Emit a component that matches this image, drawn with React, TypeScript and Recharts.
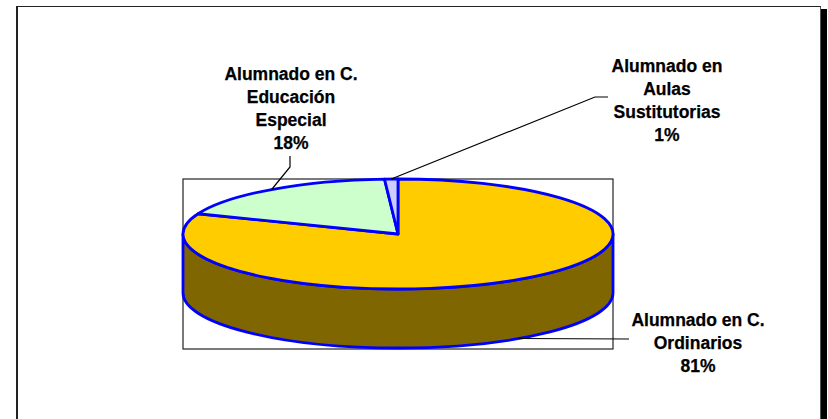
import { PieChart, Pie, Cell } from 'recharts';

// categories (line breaks as in the original labels) and their shares in %
const categories = [
  'Alumnado en C.\nOrdinarios',
  'Alumnado en C.\nEducación\nEspecial',
  'Alumnado en\nAulas\nSustitutorias',
];
const shares = [81, 18, 1];
const topColors = ['#FFCC00', '#CCFFCC', '#CCCCFF'];

const data = categories.map((name, i) => ({ name, value: shares[i] }));

// 3D look of the pie
const CX = 398;
const CY = 234;
const RADIUS = 215;
const TILT = 55 / 215;
const DEPTH = 59;
const EDGE = '#0000FF';
const RAD = Math.PI / 180;
const FONT = "'Liberation Sans', Arial, sans-serif";

// where each label sits: text centre, first baseline, leader bend points
const labelLayout = [
  { x: 698, y: 326, leader: [[629, 339]] },
  { x: 291, y: 80, leader: [[290, 167], [290, 156]] },
  { x: 667, y: 72, leader: [[595, 97], [608, 97]] },
];

const darken = (hex: string) => {
  const n = parseInt(hex.slice(1), 16);
  const r = Math.round(((n >> 16) & 255) / 2);
  const g = Math.round(((n >> 8) & 255) / 2);
  const b = Math.round((n & 255) / 2);
  return `rgb(${r},${g},${b})`;
};

const pt = (cx: number, cy: number, r: number, deg: number) => [
  cx + r * Math.cos(-deg * RAD),
  cy + r * TILT * Math.sin(-deg * RAD),
];

function SliceShape(props: any) {
  const { cx, cy, outerRadius: r, startAngle, endAngle, fill } = props;
  const ry = r * TILT;
  const [sx, sy] = pt(cx, cy, r, startAngle);
  const [ex, ey] = pt(cx, cy, r, endAngle);
  const large = Math.abs(startAngle - endAngle) > 180 ? 1 : 0;
  const sweep = startAngle > endAngle ? 1 : 0;
  const top = `M${cx},${cy} L${sx},${sy} A${r},${ry} 0 ${large} ${sweep} ${ex},${ey} Z`;

  // front wall: the part of the slice between -180 and 0 degrees
  const hi = Math.min(Math.max(startAngle, endAngle), 0);
  const lo = Math.max(Math.min(startAngle, endAngle), -180);
  let side = null;
  if (lo < hi) {
    const [hx, hy] = pt(cx, cy, r, hi);
    const [lx, ly] = pt(cx, cy, r, lo);
    const sl = hi - lo > 180 ? 1 : 0;
    side = `M${hx},${hy} A${r},${ry} 0 ${sl} 1 ${lx},${ly} L${lx},${ly + DEPTH} A${r},${ry} 0 ${sl} 0 ${hx},${hy + DEPTH} Z`;
  }

  return (
    <g>
      {side && (
        <path d={side} fill={darken(fill)} stroke={EDGE} strokeWidth={2.8} strokeLinejoin="round" />
      )}
      <path d={top} fill={fill} stroke={EDGE} strokeWidth={2.8} strokeLinejoin="round" />
    </g>
  );
}

function renderLabel(props: any) {
  const { cx, cy, outerRadius, midAngle, percent, name, index } = props;
  const layout = labelLayout[index];
  let [ax, ay] = pt(cx, cy, outerRadius, midAngle);
  if (Math.sin(-midAngle * RAD) > 0) ay += DEPTH;
  const pts = [[ax, ay], ...layout.leader].map((p) => p.join(',')).join(' ');
  const lines = [...String(name).split('\n'), `${Math.round(percent * 100)}%`];
  return (
    <g key={`lbl-${index}`}>
      <polyline points={pts} fill="none" stroke="#000" strokeWidth={1.2} />
      <text
        x={layout.x}
        y={layout.y}
        textAnchor="middle"
        fontFamily={FONT}
        fontWeight="bold"
        fontSize={17.5}
        fill="#000"
        stroke="#000"
        strokeWidth={0.25}
      >
        {lines.map((l, i) => (
          <tspan key={i} x={layout.x} dy={i === 0 ? 0 : 23}>
            {l}
          </tspan>
        ))}
      </text>
    </g>
  );
}

export default function App() {
  const ry = RADIUS * TILT;
  return (
    <div style={{ position: 'absolute', left: 0, top: 0, width: 828, height: 419, background: '#fff' }}>
      <div
        style={{
          position: 'absolute',
          left: 16,
          top: 6,
          width: 802,
          height: 412,
          borderTop: '1.5px solid #222',
          borderLeft: '2px solid #222',
          borderRight: '1px solid #555',
          borderBottom: '1px solid #555',
          boxShadow: '6px 3px 0 #000',
        }}
      />
      <svg width={828} height={419} style={{ position: 'absolute', left: 0, top: 0 }}>
        <rect
          x={CX - RADIUS}
          y={CY - ry}
          width={RADIUS * 2}
          height={ry * 2 + DEPTH + 1}
          fill="none"
          stroke="#222"
          strokeWidth={1.2}
        />
      </svg>
      <div style={{ position: 'absolute', left: 0, top: 0 }}>
        <PieChart width={828} height={419} margin={{ top: 0, right: 0, bottom: 0, left: 0 }}>
          <Pie
            data={data}
            dataKey="value"
            nameKey="name"
            cx={CX}
            cy={CY}
            outerRadius={RADIUS}
            startAngle={90}
            endAngle={-270}
            stroke={EDGE}
            strokeWidth={2.8}
            shape={SliceShape}
            label={renderLabel}
            labelLine={false}
            isAnimationActive={false}
          >
            {data.map((d, i) => (
              <Cell key={d.name} fill={topColors[i]} />
            ))}
          </Pie>
        </PieChart>
      </div>
    </div>
  );
}
